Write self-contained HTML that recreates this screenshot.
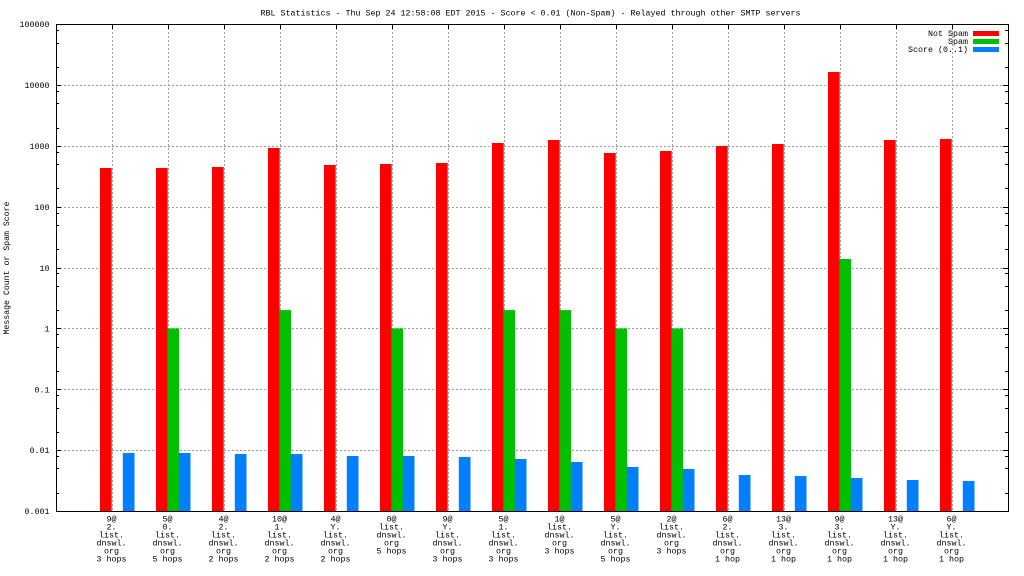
<!DOCTYPE html>
<html><head><meta charset="utf-8"><style>
html,body{margin:0;padding:0;background:#fff;}
svg{display:block;}
text{font-family:"Liberation Mono","DejaVu Sans Mono",monospace;font-size:8.33px;fill:#000;}
</style></head><body>
<svg width="1024" height="576" viewBox="0 0 1024 576" xmlns="http://www.w3.org/2000/svg">
<rect x="0" y="0" width="1024" height="576" fill="#fff"/>
<g stroke="#a0a0a0" stroke-width="1" stroke-dasharray="2,2" fill="none">
<path d="M56 450.5H1008M56 389.5H1008M56 328.5H1008M56 268.5H1008M56 207.5H1008M56 146.5H1008M56 85.5H1008"/>
<path d="M112.5 24V511M168.5 24V511M224.5 24V511M280.5 24V511M336.5 24V511M392.5 24V511M448.5 24V511M504.5 24V511M560.5 24V511M616.5 24V511M672.5 24V511M728.5 24V511M784.5 24V511M840.5 24V511M896.5 24V511M952.5 24V511"/>
</g>
<g fill="#ff0000">
<rect x="100" y="168" width="11.7" height="343"/>
<rect x="156" y="168" width="11.7" height="343"/>
<rect x="212" y="167" width="11.7" height="344"/>
<rect x="268" y="148" width="11.7" height="363"/>
<rect x="324" y="165" width="11.7" height="346"/>
<rect x="380" y="164" width="11.7" height="347"/>
<rect x="436" y="163" width="11.7" height="348"/>
<rect x="492" y="143" width="11.7" height="368"/>
<rect x="548" y="140" width="11.7" height="371"/>
<rect x="604" y="153" width="11.7" height="358"/>
<rect x="660" y="151" width="11.7" height="360"/>
<rect x="716" y="146" width="11.7" height="365"/>
<rect x="772" y="144" width="11.7" height="367"/>
<rect x="828" y="72" width="11.7" height="439"/>
<rect x="884" y="140" width="11.7" height="371"/>
<rect x="940" y="139" width="11.7" height="372"/>
</g>
<g fill="#00c000">
<rect x="167.4" y="328.45" width="11.6" height="182.55"/>
<rect x="279.4" y="310.1" width="11.6" height="200.9"/>
<rect x="391.4" y="328.45" width="11.6" height="182.55"/>
<rect x="503.4" y="310.1" width="11.6" height="200.9"/>
<rect x="559.4" y="310.1" width="11.6" height="200.9"/>
<rect x="615.4" y="328.45" width="11.6" height="182.55"/>
<rect x="671.4" y="328.45" width="11.6" height="182.55"/>
<rect x="839.4" y="259" width="11.6" height="252"/>
</g>
<g fill="#0080ff">
<rect x="122.8" y="453" width="11.7" height="58"/>
<rect x="178.8" y="453" width="11.7" height="58"/>
<rect x="234.8" y="454" width="11.7" height="57"/>
<rect x="290.8" y="454" width="11.7" height="57"/>
<rect x="346.8" y="456" width="11.7" height="55"/>
<rect x="402.8" y="456" width="11.7" height="55"/>
<rect x="458.8" y="457" width="11.7" height="54"/>
<rect x="514.8" y="459" width="11.7" height="52"/>
<rect x="570.8" y="462" width="11.7" height="49"/>
<rect x="626.8" y="467" width="11.7" height="44"/>
<rect x="682.8" y="469" width="11.7" height="42"/>
<rect x="738.8" y="475" width="11.7" height="36"/>
<rect x="794.8" y="476" width="11.7" height="35"/>
<rect x="850.8" y="478" width="11.7" height="33"/>
<rect x="906.8" y="480" width="11.7" height="31"/>
<rect x="962.8" y="481" width="11.7" height="30"/>
</g>
<g stroke="#000" stroke-width="1" fill="none">
<rect x="56.5" y="24.5" width="952" height="487"/>
<path d="M56 450.5H61M1008 450.5H1003M56 389.5H61M1008 389.5H1003M56 328.5H61M1008 328.5H1003M56 268.5H61M1008 268.5H1003M56 207.5H61M1008 207.5H1003M56 146.5H61M1008 146.5H1003M56 85.5H61M1008 85.5H1003"/>
<path d="M56 493.5H59M56 468.5H59M56 456.5H59M56 432.5H59M56 408.5H59M56 395.5H59M56 371.5H59M56 347.5H59M56 334.5H59M56 310.5H59M56 286.5H59M56 273.5H59M56 249.5H59M56 225.5H59M56 213.5H59M56 188.5H59M56 164.5H59M56 152.5H59M56 128.5H59M56 103.5H59M56 91.5H59M56 67.5H59M56 43.5H59M56 30.5H59"/>
<path d="M1008 493.5H1005M1008 468.5H1005M1008 456.5H1005M1008 432.5H1005M1008 408.5H1005M1008 395.5H1005M1008 371.5H1005M1008 347.5H1005M1008 334.5H1005M1008 310.5H1005M1008 286.5H1005M1008 273.5H1005M1008 249.5H1005M1008 225.5H1005M1008 213.5H1005M1008 188.5H1005M1008 164.5H1005M1008 152.5H1005M1008 128.5H1005M1008 103.5H1005M1008 91.5H1005M1008 67.5H1005M1008 43.5H1005M1008 30.5H1005"/>
<path d="M112.5 24V29M168.5 24V29M224.5 24V29M280.5 24V29M336.5 24V29M392.5 24V29M448.5 24V29M504.5 24V29M560.5 24V29M616.5 24V29M672.5 24V29M728.5 24V29M784.5 24V29M840.5 24V29M896.5 24V29M952.5 24V29"/>
</g>
<text x="260.5" y="15.3" textLength="540" lengthAdjust="spacingAndGlyphs">RBL Statistics - Thu Sep 24 12:58:08 EDT 2015 - Score &lt; 0.01 (Non-Spam) - Relayed through other SMTP servers</text>
<text transform="translate(9,268) rotate(-90)" text-anchor="middle" textLength="133" lengthAdjust="spacingAndGlyphs">Message Count or Spam Score</text>
<g text-anchor="end">
<text x="968" y="36">Not Spam</text>
<text x="968" y="44">Spam</text>
<text x="968" y="52">Score (0..1)</text>
</g>
<rect x="973" y="31" width="26" height="5" fill="#ff0000"/>
<rect x="973" y="39" width="26" height="5" fill="#00c000"/>
<rect x="973" y="47" width="26" height="5" fill="#0080ff"/>
<g text-anchor="end">
<text x="49.5" y="27">100000</text>
<text x="49.5" y="88">10000</text>
<text x="49.5" y="149">1000</text>
<text x="49.5" y="210">100</text>
<text x="49.5" y="271">10</text>
<text x="49.5" y="331.5">1</text>
<text x="49.5" y="392.3">0.1</text>
<text x="49.5" y="453">0.01</text>
<text x="49.5" y="514">0.001</text>
</g>
<g text-anchor="middle">
<text x="111.5" y="521.5">9@</text><text x="111.5" y="529.5">2.</text><text x="111.5" y="537.5">list.</text><text x="111.5" y="545.5">dnswl.</text><text x="111.5" y="553.5">org</text><text x="111.5" y="561.5">3 hops</text>
<text x="167.5" y="521.5">5@</text><text x="167.5" y="529.5">0.</text><text x="167.5" y="537.5">list.</text><text x="167.5" y="545.5">dnswl.</text><text x="167.5" y="553.5">org</text><text x="167.5" y="561.5">5 hops</text>
<text x="223.5" y="521.5">4@</text><text x="223.5" y="529.5">2.</text><text x="223.5" y="537.5">list.</text><text x="223.5" y="545.5">dnswl.</text><text x="223.5" y="553.5">org</text><text x="223.5" y="561.5">2 hops</text>
<text x="279.5" y="521.5">10@</text><text x="279.5" y="529.5">1.</text><text x="279.5" y="537.5">list.</text><text x="279.5" y="545.5">dnswl.</text><text x="279.5" y="553.5">org</text><text x="279.5" y="561.5">2 hops</text>
<text x="335.5" y="521.5">4@</text><text x="335.5" y="529.5">Y.</text><text x="335.5" y="537.5">list.</text><text x="335.5" y="545.5">dnswl.</text><text x="335.5" y="553.5">org</text><text x="335.5" y="561.5">2 hops</text>
<text x="391.5" y="521.5">0@</text><text x="391.5" y="529.5">list.</text><text x="391.5" y="537.5">dnswl.</text><text x="391.5" y="545.5">org</text><text x="391.5" y="553.5">5 hops</text>
<text x="447.5" y="521.5">9@</text><text x="447.5" y="529.5">Y.</text><text x="447.5" y="537.5">list.</text><text x="447.5" y="545.5">dnswl.</text><text x="447.5" y="553.5">org</text><text x="447.5" y="561.5">3 hops</text>
<text x="503.5" y="521.5">5@</text><text x="503.5" y="529.5">1.</text><text x="503.5" y="537.5">list.</text><text x="503.5" y="545.5">dnswl.</text><text x="503.5" y="553.5">org</text><text x="503.5" y="561.5">3 hops</text>
<text x="559.5" y="521.5">1@</text><text x="559.5" y="529.5">list.</text><text x="559.5" y="537.5">dnswl.</text><text x="559.5" y="545.5">org</text><text x="559.5" y="553.5">3 hops</text>
<text x="615.5" y="521.5">5@</text><text x="615.5" y="529.5">Y.</text><text x="615.5" y="537.5">list.</text><text x="615.5" y="545.5">dnswl.</text><text x="615.5" y="553.5">org</text><text x="615.5" y="561.5">5 hops</text>
<text x="671.5" y="521.5">2@</text><text x="671.5" y="529.5">list.</text><text x="671.5" y="537.5">dnswl.</text><text x="671.5" y="545.5">org</text><text x="671.5" y="553.5">3 hops</text>
<text x="727.5" y="521.5">6@</text><text x="727.5" y="529.5">2.</text><text x="727.5" y="537.5">list.</text><text x="727.5" y="545.5">dnswl.</text><text x="727.5" y="553.5">org</text><text x="727.5" y="561.5">1 hop</text>
<text x="783.5" y="521.5">13@</text><text x="783.5" y="529.5">3.</text><text x="783.5" y="537.5">list.</text><text x="783.5" y="545.5">dnswl.</text><text x="783.5" y="553.5">org</text><text x="783.5" y="561.5">1 hop</text>
<text x="839.5" y="521.5">9@</text><text x="839.5" y="529.5">3.</text><text x="839.5" y="537.5">list.</text><text x="839.5" y="545.5">dnswl.</text><text x="839.5" y="553.5">org</text><text x="839.5" y="561.5">1 hop</text>
<text x="895.5" y="521.5">13@</text><text x="895.5" y="529.5">Y.</text><text x="895.5" y="537.5">list.</text><text x="895.5" y="545.5">dnswl.</text><text x="895.5" y="553.5">org</text><text x="895.5" y="561.5">1 hop</text>
<text x="951.5" y="521.5">6@</text><text x="951.5" y="529.5">Y.</text><text x="951.5" y="537.5">list.</text><text x="951.5" y="545.5">dnswl.</text><text x="951.5" y="553.5">org</text><text x="951.5" y="561.5">1 hop</text>
</g>
</svg>
</body></html>
